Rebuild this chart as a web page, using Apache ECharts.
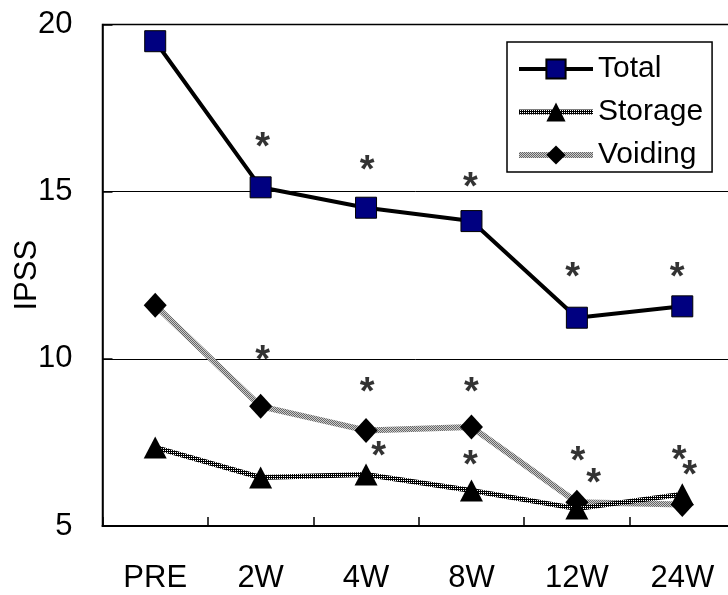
<!DOCTYPE html>
<html><head><meta charset="utf-8">
<script src="https://cdn.jsdelivr.net/npm/echarts@6/dist/echarts.min.js"></script>
<style>html,body{margin:0;padding:0;background:#fff}#c{width:728px;height:595px}</style>
</head><body><div id="c"></div>
<script>
const categories = ['PRE', '2W', '4W', '8W', '12W', '24W'];
const totalValues = [19.5, 15.13, 14.52, 14.12, 11.23, 11.57];
const storageValues = [7.35, 6.45, 6.54, 6.06, 5.52, 5.95];
const voidingValues = [11.6, 8.58, 7.86, 7.96, 5.71, 5.64];
const yTickValues = [5, 10, 15, 20];
// significance marks "*": [position in category units, IPSS value]
const totalStars = [[1.02, 16.55], [2.01, 15.86], [2.99, 15.35], [3.96, 12.66], [4.95, 12.66]];
const voidingStars = [[1.02, 10.20], [2.01, 9.22], [3.00, 9.22], [4.01, 7.18], [4.97, 7.21]];
const storageStars = [[2.12, 7.33], [2.99, 7.06], [4.16, 6.52], [5.07, 6.76]];

const FONT = "'Liberation Sans', Arial, sans-serif";

function makePattern(cells) {
  const c = document.createElement('canvas');
  c.width = cells[0].length; c.height = cells.length;
  const ctx = c.getContext('2d');
  for (let y = 0; y < cells.length; y++) {
    for (let x = 0; x < cells[y].length; x++) {
      ctx.fillStyle = cells[y][x];
      ctx.fillRect(x, y, 1, 1);
    }
  }
  return { image: c, repeat: 'repeat' };
}
const storagePattern = makePattern([['#000', '#fff'], ['#000', '#000']]);
const voidingPattern = makePattern([['#666', '#ccc'], ['#ccc', '#666']]);

function starSeries(data) {
  return {
    type: 'scatter', xAxisIndex: 1, yAxisIndex: 0, silent: true, z: 10,
    symbolSize: 1, itemStyle: { color: 'rgba(0,0,0,0)' },
    label: { show: true, formatter: '*', position: 'inside', fontSize: 38, fontWeight: 'bold',
      fontFamily: FONT, color: '#000', offset: [0, 9] },
    data: data
  };
}

const chart = echarts.init(document.getElementById('c'), null, { renderer: 'canvas' });
chart.setOption({
  animation: false,
  backgroundColor: '#fff',
  grid: { left: 102.5, top: 24.5, width: 632.5, height: 501.5, show: true,
    containLabel: false, outerBoundsMode: 'none',
    borderColor: '#000', borderWidth: 1.5, backgroundColor: 'transparent' },
  legend: {
    data: [
      { name: 'Total', lineStyle: { color: '#000', width: 4 } },
      { name: 'Storage', lineStyle: { color: storagePattern, width: 5 } },
      { name: 'Voiding', lineStyle: { color: voidingPattern, width: 6 } }
    ],
    orient: 'vertical', left: 507, top: 42,
    itemWidth: 74, itemHeight: 24, itemGap: 13,
    padding: [12, 9, 2, 9],
    borderColor: '#000', borderWidth: 1.5, backgroundColor: '#fff',
    textStyle: { fontSize: 30, lineHeight: 30, color: '#000', fontFamily: FONT }
  },
  xAxis: [{
    type: 'category', data: categories, boundaryGap: true,
    axisLine: { lineStyle: { color: '#000', width: 2 } },
    axisTick: { show: true, inside: true, length: 9, lineStyle: { color: '#000', width: 1.5 } },
    axisLabel: { fontSize: 31, margin: 37, color: '#000', fontFamily: FONT },
    splitLine: { show: false }
  }, {
    type: 'value', min: -0.5, max: 5.5, show: false
  }],
  yAxis: {
    type: 'value', min: 5, max: 20, interval: 5,
    name: 'IPSS', nameLocation: 'middle', nameGap: 60, nameMoveOverlap: false,
    nameTextStyle: { fontSize: 31, color: '#000', fontFamily: FONT },
    axisLine: { show: true, onZero: false, lineStyle: { color: '#000', width: 1.5 } },
    axisTick: { show: true, inside: true, length: 10, lineStyle: { color: '#000', width: 1.5 } },
    axisLabel: { fontSize: 31, margin: 30, color: '#000', fontFamily: FONT,
      formatter: v => yTickValues.includes(v) ? String(v) : '' },
    splitLine: { show: true, lineStyle: { color: '#000', width: 1 } }
  },
  series: [
    {
      name: 'Total', type: 'line', data: totalValues, z: 5,
      symbol: 'rect', symbolSize: 21,
      itemStyle: { color: '#000080', borderColor: '#000', borderWidth: 1 },
      lineStyle: { color: '#000', width: 4 }
    },
    {
      name: 'Storage', type: 'line', data: storageValues, z: 4,
      symbol: 'triangle', symbolSize: [23, 22],
      itemStyle: { color: '#000' },
      lineStyle: { color: storagePattern, width: 5 }
    },
    {
      name: 'Voiding', type: 'line', data: voidingValues, z: 3,
      symbol: 'diamond', symbolSize: [23, 25],
      itemStyle: { color: '#000' },
      lineStyle: { color: voidingPattern, width: 6 }
    },
    starSeries(totalStars),
    starSeries(voidingStars),
    starSeries(storageStars)
  ]
});
</script></body></html>
